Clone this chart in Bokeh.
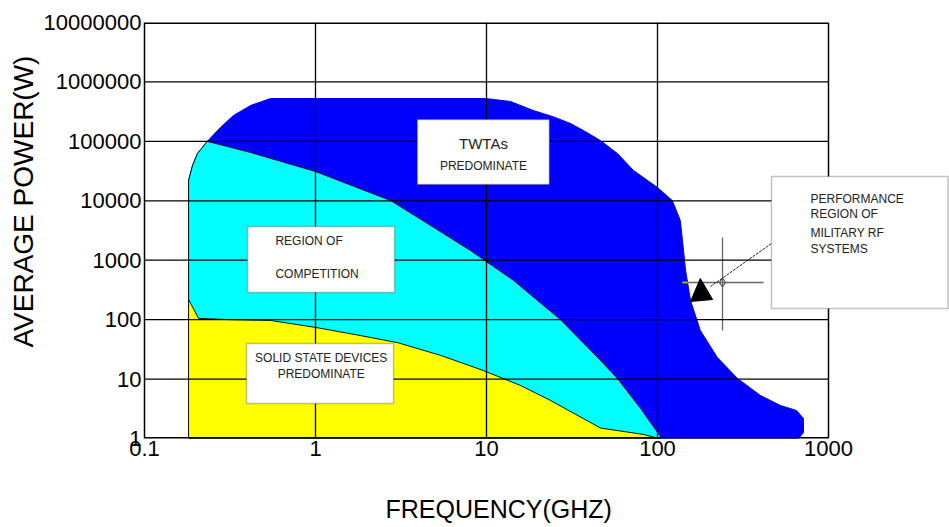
import math
from bokeh.plotting import figure
from bokeh.models import FixedTicker, BoxAnnotation, Label, Title
from bokeh.embed import file_html
from bokeh.resources import INLINE

# ---------------- data (GHz, W) ----------------
x_ticks = [0.1, 1, 10, 100, 1000]
x_tick_labels = ["0.1", "1", "10", "100", "1000"]
y_ticks = [1, 10, 100, 1000, 10000, 100000, 1000000, 10000000]
y_tick_labels = ["1", "10", "100", "1000", "10000", "100000", "1000000", "10000000"]

# TWTA envelope (outer region)
twta_freq = [0.181, 0.181, 0.191, 0.204, 0.233, 0.278, 0.331, 0.417, 0.545, 9.9, 13.8, 18.8,
             24.5, 31, 38, 46.4, 58.3, 72.4, 100, 122, 136, 142, 146, 156, 178, 224, 294, 400,
             524, 650, 714, 714, 668]
twta_power = [1, 21900, 39300, 62500, 100000, 171000, 272000, 401000, 526000, 526000, 469000,
              330000, 260000, 200000, 145000, 103000, 62500, 32400, 16700, 10100, 4660, 1460,
              671, 210, 65.6, 23, 10.2, 5.3, 3.59, 2.96, 2.17, 1.26, 1]

# region of competition
comp_freq = [0.181, 0.181, 0.191, 0.204, 0.233, 0.417, 1.0, 2.75, 4.71, 8.05, 14.4, 27.1,
             46.4, 58.3, 79.6, 106]
comp_power = [1, 21900, 39300, 62500, 100000, 65000, 31100, 10100, 3840, 1460, 456, 100,
              20.6, 10.2, 3.2, 1]

# solid state devices
ssd_freq = [0.181, 0.181, 0.207, 0.32, 0.545, 1.0, 1.71, 3.02, 5.4, 9.6, 15.8, 23.7, 46.4,
            82.8, 102]
ssd_power = [1, 218, 105, 100, 97, 74, 56, 41, 25, 13.9, 7.8, 4.36, 1.5, 1.17, 1]

# military RF systems marker
mil_tri_freq = [178, 156, 210]
mil_tri_power = [492, 202, 218]
mil_center = (240, 422)
mil_h_freq = [140, 417]
mil_v_power = [65.6, 2410]
leader_freq = [464, 204]
leader_power = [1910, 361]

FONT = "Liberation Sans"
X_MIN, X_MAX_GRID = 0.1, 1000
Y_MIN, Y_MAX = 1, 1e7
# the frame is extended to the right so the side text box is not clipped
X_VIEW_END = 10 ** (-1 + 805 / 171)

p = figure(width=949, height=527, x_axis_type="log", y_axis_type="log",
           x_range=(X_MIN, X_VIEW_END), y_range=(Y_MIN, Y_MAX),
           output_backend="svg", toolbar_location=None,
           min_border_left=144, min_border_right=0, min_border_top=22, min_border_bottom=89,
           background_fill_color="white", border_fill_color="white")
p.outline_line_color = None
p.xgrid.grid_line_color = None
p.ygrid.grid_line_color = None

# regions
p.patch(twta_freq, twta_power, fill_color="#0000FF", line_color="#0000FF", line_width=1)
p.patch(comp_freq, comp_power, fill_color="#00FFFF", line_color="#111111", line_width=1)
p.patch(ssd_freq, ssd_power, fill_color="#FFFF00", line_color="#111111", line_width=1)

# military marker / crosshair
p.line(mil_h_freq, [mil_center[1], mil_center[1]], line_color="#666666", line_width=1.3)
p.line([mil_center[0], mil_center[0]], mil_v_power, line_color="#666666", line_width=1.3)
p.line([140, 150], [mil_center[1], mil_center[1]], line_color="#E0C000", line_width=1.3)
p.line(leader_freq, leader_power, line_color="#222222", line_width=1, line_dash="3 1")
p.scatter([mil_center[0]], [mil_center[1]], marker="diamond", size=9, fill_color=None,
          line_color="#555555", line_width=1.2)
p.patch(mil_tri_freq, mil_tri_power, fill_color="black", line_color="black")

# grid lines on top of the regions (drawn up to 1000 GHz only)
inner_x = x_ticks[1:-1]
inner_y = y_ticks[1:-1]
p.segment(x0=inner_x, y0=[Y_MIN] * len(inner_x), x1=inner_x, y1=[Y_MAX] * len(inner_x),
          line_color="black", line_width=1.3)
p.segment(x0=[X_MIN] * len(inner_y), y0=inner_y, x1=[X_MAX_GRID] * len(inner_y), y1=inner_y,
          line_color="black", line_width=1.3)
# frame edges
p.segment(x0=[X_MIN, X_MIN], y0=[Y_MIN, Y_MAX], x1=[X_MAX_GRID, X_MAX_GRID], y1=[Y_MIN, Y_MAX],
          line_color="black", line_width=3)
p.segment(x0=[X_MAX_GRID], y0=[Y_MIN], x1=[X_MAX_GRID], y1=[Y_MAX],
          line_color="black", line_width=1.5)

# axes
p.xaxis.ticker = FixedTicker(ticks=x_ticks, minor_ticks=[])
p.yaxis.ticker = FixedTicker(ticks=y_ticks, minor_ticks=[])
p.xaxis.major_label_overrides = {t: l for t, l in zip(x_ticks, x_tick_labels)}
p.yaxis.major_label_overrides = {t: l for t, l in zip(y_ticks, y_tick_labels)}
for ax in (p.xaxis, p.yaxis):
    ax.major_tick_out = 0
    ax.major_tick_in = 0
    ax.minor_tick_out = 0
    ax.minor_tick_in = 0
    ax.major_label_text_font = FONT
    ax.major_label_text_font_size = "22px"
    ax.major_label_text_color = "black"
p.xaxis.axis_line_color = None
p.yaxis.axis_line_color = "black"
p.yaxis.axis_line_width = 1.5
p.xaxis.major_label_standoff = 2
p.yaxis.major_label_standoff = 3

# axis titles
p.add_layout(Title(text="AVERAGE POWER(W)", align="left", offset=91, standoff=4,
                   text_font=FONT, text_font_size="28px", text_font_style="normal",
                   text_color="black"), "left")
p.add_layout(Title(text="FREQUENCY(GHZ)", align="left", offset=241, standoff=0,
                   padding=dict(left=0, right=0, top=34, bottom=0),
                   text_font=FONT, text_font_size="25px", text_font_style="normal",
                   text_color="black"), "below")

# text boxes
box_style = dict(fill_color="white", fill_alpha=1, line_color="#333333", line_width=1.5)
p.add_layout(BoxAnnotation(left=3.94, right=23.3, bottom=18800, top=233000, **box_style))
p.add_layout(BoxAnnotation(left=0.40, right=2.90, bottom=286, top=3690, **box_style))
p.add_layout(BoxAnnotation(left=0.395, right=2.86, bottom=3.88, top=39.7, **box_style))
p.add_layout(BoxAnnotation(left=464, right=5000, bottom=154, top=25600, **box_style))

lab = dict(text_font=FONT, text_color="#222222", text_baseline="middle")
p.add_layout(Label(x=9.6, y=92000, text="TWTAs", text_align="center", text_font_size="15px", **lab))
p.add_layout(Label(x=9.6, y=37800, text="PREDOMINATE", text_align="center", text_font_size="12px", **lab))
p.add_layout(Label(x=0.583, y=2070, text="REGION OF", text_align="left", text_font_size="12px", **lab))
p.add_layout(Label(x=0.583, y=575, text="COMPETITION", text_align="left", text_font_size="12px", **lab))
p.add_layout(Label(x=1.08, y=22.2, text="SOLID STATE DEVICES", text_align="center", text_font_size="12px", **lab))
p.add_layout(Label(x=1.08, y=12.4, text="PREDOMINATE", text_align="center", text_font_size="12px", **lab))
for t, yv in zip(["PERFORMANCE", "REGION OF", "MILITARY RF", "SYSTEMS"], [10900, 5880, 2920, 1570]):
    p.add_layout(Label(x=785, y=yv, text=t, text_align="left", text_font_size="12px", **lab))

open("out.html", "w").write(file_html(p, INLINE))
